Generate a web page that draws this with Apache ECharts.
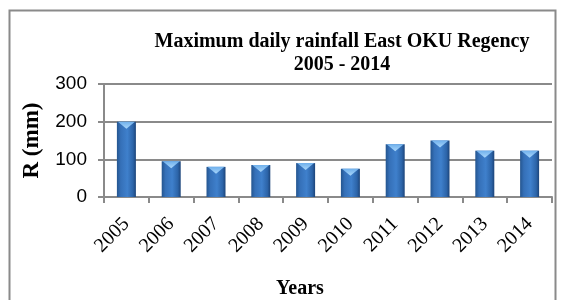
<!DOCTYPE html>
<html>
<head>
<meta charset="utf-8">
<script src="https://cdn.jsdelivr.net/npm/echarts@6/dist/echarts.min.js"></script>
<style>
  html, body { margin: 0; padding: 0; background: #fff; }
  #chart { width: 561px; height: 300px; }
</style>
</head>
<body>
<div id="chart"></div>
<script>
// data
const years = ['2005', '2006', '2007', '2008', '2009', '2010', '2011', '2012', '2013', '2014']
const rainfall = [200, 95, 80, 85, 90, 75, 140, 150, 123, 123]
const yTicks = [0, 100, 200, 300]

const chart = echarts.init(document.getElementById('chart'))

const serif = '"Liberation Serif", "DejaVu Serif", serif'
const sans = '"Liberation Sans", "DejaVu Sans", sans-serif'

chart.setOption({
  animation: false,
  graphic: [
    {
      type: 'rect',
      shape: { x: 9.5, y: 10.5, width: 546, height: 300 },
      style: { fill: 'none', stroke: '#8a8a8a', lineWidth: 2 },
      silent: true,
    },
    {
      // x axis title, sits left of the plot centre in the original
      type: 'text',
      x: 300,
      y: 279,
      style: {
        text: 'Years',
        fill: '#000',
        font: 'bold 20px ' + serif,
        align: 'center',
        verticalAlign: 'top',
      },
      silent: true,
    },
  ],
  title: {
    text: 'Maximum daily rainfall East OKU Regency\n2005 - 2014',
    left: 337,
    top: 25,
    textAlign: 'center',
    textStyle: {
      fontFamily: serif,
      fontWeight: 'bold',
      fontSize: 20,
      lineHeight: 23,
      color: '#000',
    },
  },
  grid: { left: 104, right: 9, top: 84, bottom: 103 },
  xAxis: {
    type: 'category',
    data: years,
    axisLine: { lineStyle: { color: '#8a8a8a', width: 2 } },
    axisTick: { show: true, length: 6, lineStyle: { color: '#8a8a8a', width: 2 } },
    axisLabel: {
      rotate: 45,
      margin: 24,
      fontFamily: serif,
      fontSize: 20,
      color: '#000',
    },
  },
  yAxis: {
    type: 'value',
    min: yTicks[0],
    max: yTicks[yTicks.length - 1],
    interval: 100,
    name: 'R (mm)',
    nameLocation: 'middle',
    nameGap: 60,
    nameRotate: 90,
    nameTextStyle: { fontFamily: serif, fontWeight: 'bold', fontSize: 23, color: '#000' },
    axisLine: { show: true, lineStyle: { color: '#8a8a8a', width: 2 } },
    axisTick: { show: true, length: 6, lineStyle: { color: '#8a8a8a', width: 2 } },
    axisLabel: { margin: 17, fontFamily: sans, fontSize: 19, color: '#000' },
    splitLine: { lineStyle: { color: '#8a8a8a', width: 2 } },
  },
  series: [
    {
      type: 'bar',
      data: rainfall,
      barWidth: 19,
      itemStyle: {
        color: new echarts.graphic.LinearGradient(0, 0, 1, 0, [
          { offset: 0, color: '#24558f' },
          { offset: 0.2, color: '#3570b8' },
          { offset: 0.55, color: '#3f80cc' },
          { offset: 0.85, color: '#2c64a8' },
          { offset: 1, color: '#1c4479' },
        ]),
      },
      z: 2,
    },
    {
      // light bevel triangle on top of each bar
      type: 'pictorialBar',
      data: rainfall,
      symbol: 'triangle',
      symbolRotate: 180,
      symbolSize: [17, 7],
      symbolPosition: 'end',
      symbolOffset: [0, 0],
      itemStyle: {
        color: new echarts.graphic.LinearGradient(0, 0, 0, 1, [
          { offset: 0, color: '#a9d6fa' },
          { offset: 1, color: '#6fb0ec' },
        ]),
      },
      silent: true,
      z: 3,
    },
  ],
})
</script>
</body>
</html>
